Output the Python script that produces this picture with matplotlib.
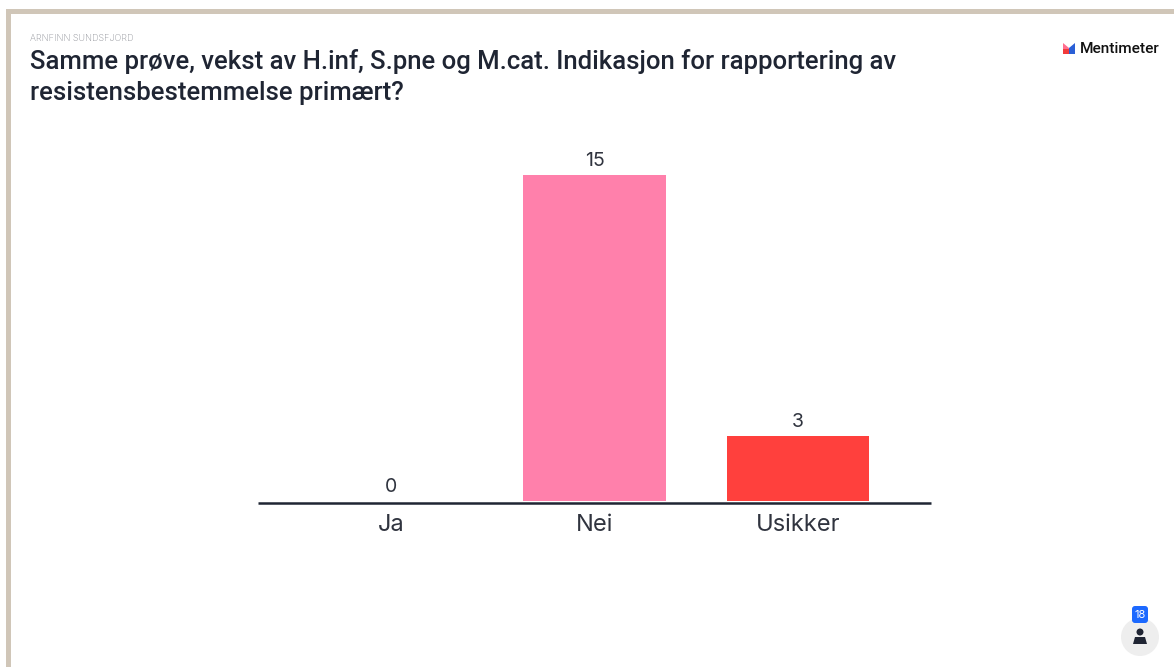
import matplotlib
matplotlib.use("Agg")
import matplotlib.pyplot as plt
from matplotlib.patches import Circle, FancyBboxPatch, Polygon, Rectangle

W, H = 1174, 667

categories = ["Ja", "Nei", "Usikker"]
votes = [0, 15, 3]
bar_colors = ["#c9d6f5", "#ff80ab", "#ff403d"]
title_lines = [
    "Samme prøve, vekst av H.inf, S.pne og M.cat. Indikasjon for rapportering av",
    "resistensbestemmelse primært?",
]
author = "ARNFINN SUNDSFJORD"
brand = "Mentimeter"
participants = "18"

INK = "#1f2533"
TITLE_FONT = "Roboto"
BODY_FONT = "Inter"

fig = plt.figure(figsize=(W / 100, H / 100), dpi=100, facecolor="white")

# Full-slide layer measured in pixels from the top left corner
slide = fig.add_axes([0, 0, 1, 1], zorder=0)
slide.set_xlim(0, W)
slide.set_ylim(H, 0)
slide.axis("off")

# Slide frame along the top and left edges
slide.add_patch(Rectangle((6, 9), W - 6, 4.5, facecolor="#d0c6b8", edgecolor="none"))
slide.add_patch(Rectangle((6, 9), 5, H - 9, facecolor="#d0c6b8", edgecolor="none"))

# Header text
slide.text(30, 38.5, author, fontsize=6.5, color="#8f9198", family=BODY_FONT,
           va="center", ha="left", fontweight="light")
slide.text(30, 62, title_lines[0], fontsize=18.55, color=INK, family=TITLE_FONT,
           va="center", ha="left", fontweight="medium")
slide.text(30, 93, title_lines[1], fontsize=18.55, color=INK, family=TITLE_FONT,
           va="center", ha="left", fontweight="medium")

# Bar chart
ax = fig.add_axes([258 / W, 1 - 501 / H, (931 - 258) / W, (501 - 175) / H], zorder=1)
positions = list(range(len(categories)))
ax.bar(positions, votes, width=0.698, color=bar_colors, linewidth=0)
ax.set_xlim(-0.6535, 2.6535)
ax.set_ylim(0, 15)
ax.patch.set_visible(False)
for side in ("top", "left", "right"):
    ax.spines[side].set_visible(False)
ax.spines["bottom"].set_position(("outward", 1.5))
ax.spines["bottom"].set_linewidth(1.8)
ax.spines["bottom"].set_color(INK)
ax.spines["bottom"].set_capstyle("butt")
ax.set_yticks([])
ax.set_xticks(positions, categories, fontsize=17, color="#30343f", family=BODY_FONT)
ax.tick_params(axis="x", length=0, pad=8)
for pos, value in zip(positions, votes):
    ax.annotate(str(value), (pos, value), xytext=(0, 3.5), textcoords="offset points",
                ha="center", va="bottom", fontsize=14, color="#30343f",
                family=BODY_FONT, annotation_clip=False)

# Brand mark and name
slide.add_patch(Polygon([(1063, 54), (1063, 43), (1069, 48), (1069, 54)],
                        facecolor="#ff6f8f", edgecolor="none"))
slide.add_patch(Polygon([(1063, 54), (1063, 49), (1069, 49), (1069, 54)],
                        facecolor="#f23b3b", edgecolor="none"))
slide.add_patch(Polygon([(1069, 54), (1069, 48), (1075, 43), (1075, 54)],
                        facecolor="#2a5fd6", edgecolor="none"))
slide.text(1079.5, 49, brand, fontsize=11.1, color="#111111", family=TITLE_FONT,
           va="center", ha="left", fontweight="medium")

# Participant counter
slide.add_patch(Circle((1140, 637), 19, facecolor="#eeeeee", edgecolor="none"))
slide.add_patch(FancyBboxPatch((1134.5, 608.5), 11, 12, boxstyle="round,pad=2.5,rounding_size=3",
                               facecolor="#1c69ff", edgecolor="none"))
slide.text(1140, 614.5, participants, fontsize=8, color="white", family=BODY_FONT,
           va="center", ha="center")
slide.add_patch(Circle((1140, 632), 3.5, facecolor=INK, edgecolor="none"))
slide.add_patch(Polygon([(1133, 644), (1135, 637), (1145, 637), (1147, 644)],
                        facecolor=INK, edgecolor="none"))

fig.savefig("out.png", dpi=100, facecolor="white")
